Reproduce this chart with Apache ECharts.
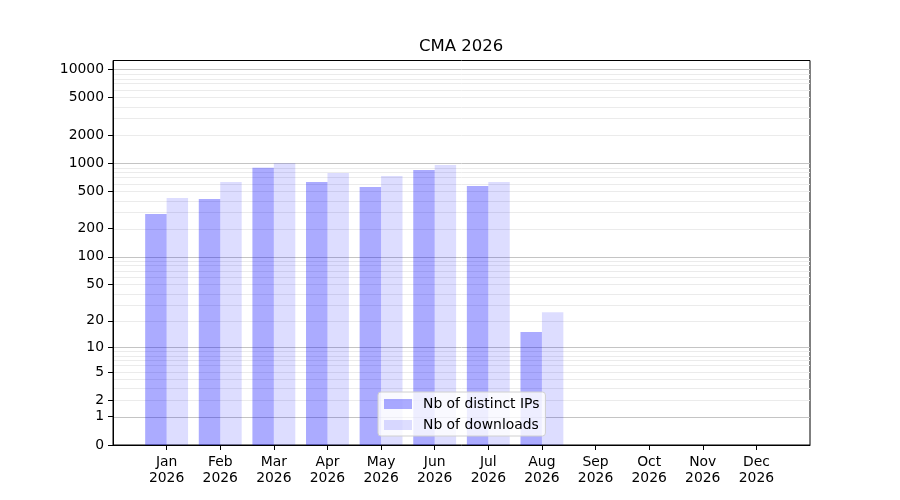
<!DOCTYPE html>
<html>
<head>
<meta charset="utf-8">
<script src="https://cdn.jsdelivr.net/npm/echarts@6/dist/echarts.min.js"></script>
<style>
  html, body { margin: 0; padding: 0; background: #fff; }
  #chart { width: 900px; height: 500px; }
</style>
</head>
<body>
<div id="chart"></div>
<script>
// data
const months = ['Jan', 'Feb', 'Mar', 'Apr', 'May', 'Jun', 'Jul', 'Aug', 'Sep', 'Oct', 'Nov', 'Dec'];
const year = '2026';
const distinctIPs = [287, 416, 897, 632, 559, 848, 573, 15, 0, 0, 0, 0];
const downloads = [426, 632, 1000, 788, 732, 958, 632, 25, 0, 0, 0, 0];
const yTicks = [0, 1, 2, 5, 10, 20, 50, 100, 200, 500, 1000, 2000, 5000, 10000];
const majorGrid = [1, 10, 100, 1000, 10000];

// the y scale is log10(v + 1)
function tr(v) { return Math.log10(v + 1); }

const minorGrid = [];
[1, 10, 100, 1000].forEach(d => {
    for (let k = 2; k <= 9; k++) minorGrid.push(k * d);
});

const chart = echarts.init(document.getElementById('chart'));
const font = 'DejaVu Sans';

const gridLines = [];
minorGrid.forEach(v => gridLines.push({ yAxis: tr(v), lineStyle: { color: '#ebebeb', width: 1, type: 'solid' } }));
majorGrid.forEach(v => gridLines.push({ yAxis: tr(v), lineStyle: { color: '#c4c4c4', width: 1, type: 'solid' } }));

const xTickVals = months.map((m, i) => i);

chart.setOption({
    animation: false,
    textStyle: { fontFamily: font },
    title: {
        text: 'CMA 2026',
        left: 414, top: 33,
        textStyle: { fontFamily: font, fontSize: 16.5, fontWeight: 'normal', color: '#000' }
    },
    grid: {
        left: 113, right: 90, top: 60.5, bottom: 55,
        show: true, borderColor: '#000', borderWidth: 1, backgroundColor: 'transparent'
    },
    legend: {
        orient: 'vertical',
        left: 378, top: 392,
        z: 20,
        data: ['Nb of distinct IPs', 'Nb of downloads'],
        icon: 'rect',
        itemWidth: 28, itemHeight: 10, itemGap: 7,
        padding: [5, 6, 4, 6],
        backgroundColor: 'rgba(255,255,255,0.8)',
        borderColor: '#d0d0d0', borderWidth: 1, borderRadius: 3,
        textStyle: { fontFamily: font, fontSize: 13.9, color: '#000', padding: [0, 0, 0, 6] }
    },
    xAxis: {
        type: 'value',
        min: -1, max: 12, interval: 1,
        splitLine: { show: false },
        axisLine: { show: true, onZero: false, lineStyle: { color: '#000', width: 1 } },
        axisTick: { show: true, length: 5, lineStyle: { color: '#000' }, customValues: xTickVals },
        axisLabel: {
            customValues: xTickVals,
            margin: 9,
            fontFamily: font, fontSize: 13.9, color: '#000', lineHeight: 16,
            formatter: v => (v >= 0 && v < months.length) ? months[v] + '\n' + year : ''
        }
    },
    yAxis: {
        type: 'value',
        min: 0, max: 4.095,
        splitLine: { show: false },
        axisLine: { show: true, onZero: false, lineStyle: { color: '#000', width: 1 } },
        axisTick: { show: true, length: 5, lineStyle: { color: '#000' }, customValues: yTicks.map(tr) },
        axisLabel: {
            customValues: yTicks.map(tr),
            margin: 9,
            fontFamily: font, fontSize: 13.9, color: '#000',
            formatter: v => String(Math.round(Math.pow(10, v) - 1))
        }
    },
    series: [
        {
            name: 'grid',
            type: 'line',
            data: [],
            z: 0,
            silent: true,
            markLine: { silent: true, z: 0, symbol: 'none', label: { show: false }, data: gridLines }
        },
        {
            name: 'Nb of distinct IPs',
            type: 'bar',
            z: 10,
            barWidth: 21.45,
            barGap: '0%',
            itemStyle: { color: 'rgba(0,0,255,0.33)' },
            data: distinctIPs.map((v, i) => [i, tr(v)])
        },
        {
            name: 'Nb of downloads',
            type: 'bar',
            z: 10,
            barWidth: 21.45,
            barGap: '0%',
            itemStyle: { color: 'rgba(0,0,255,0.133)' },
            data: downloads.map((v, i) => [i, tr(v)])
        }
    ]
});
</script>
</body>
</html>
